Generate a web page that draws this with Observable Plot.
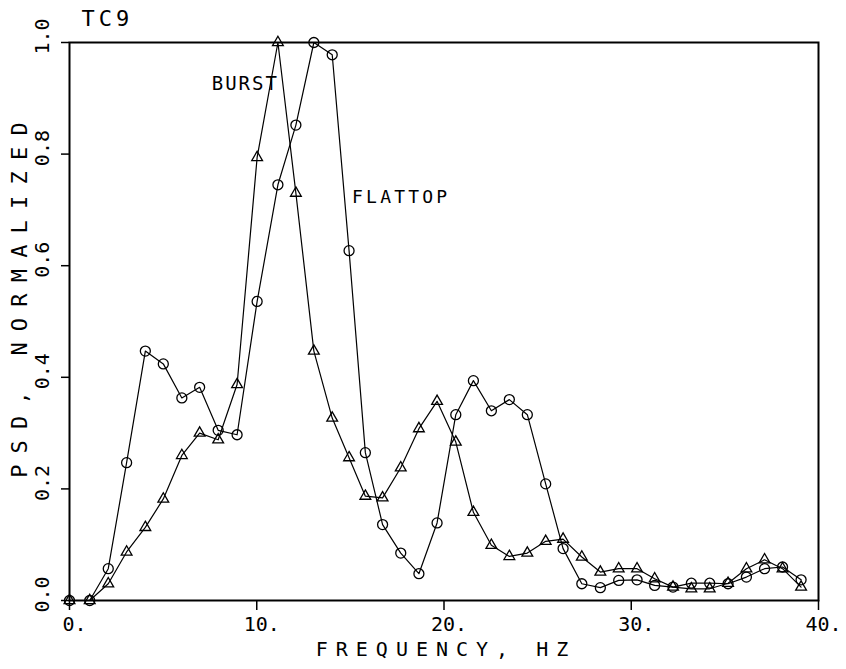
<!DOCTYPE html>
<html><head><meta charset="utf-8">
<script src="https://cdn.jsdelivr.net/npm/d3@7"></script>
<script src="https://cdn.jsdelivr.net/npm/@observablehq/plot@0.6"></script>
<style>body{margin:0;background:#fff}</style>
</head><body><div id="chart"></div>
<script>
// Frequency bins (Hz)
const freq = [0, 1.08, 2.07, 3.05, 4.05, 5.01, 6.0, 6.95, 7.94, 8.95, 10.02, 11.13, 12.09, 13.05, 14.03, 14.93, 15.8, 16.72, 17.69, 18.66, 19.63, 20.63, 21.57, 22.53, 23.49, 24.45, 25.43, 26.36, 27.36, 28.35, 29.33, 30.31, 31.25, 32.23, 33.21, 34.19, 35.17, 36.15, 37.12, 38.08, 39.07];
// FLATTOP series (circles)
const flattop = [0, 0, 0.057, 0.247, 0.447, 0.424, 0.363, 0.382, 0.305, 0.297, 0.536, 0.745, 0.852, 1.0, 0.978, 0.627, 0.265, 0.136, 0.085, 0.048, 0.139, 0.333, 0.394, 0.34, 0.36, 0.333, 0.209, 0.093, 0.03, 0.023, 0.036, 0.037, 0.027, 0.024, 0.031, 0.031, 0.03, 0.042, 0.057, 0.06, 0.037];
// BURST series (triangles)
const burst = [0, 0, 0.03, 0.087, 0.131, 0.182, 0.26, 0.30, 0.288, 0.387, 0.794, 1.0, 0.73, 0.447, 0.327, 0.256, 0.187, 0.184, 0.238, 0.308, 0.357, 0.284, 0.158, 0.099, 0.079, 0.085, 0.106, 0.11, 0.078, 0.051, 0.057, 0.057, 0.039, 0.024, 0.021, 0.021, 0.031, 0.057, 0.073, 0.057, 0.024];
const xTicks = [0, 10, 20, 30, 40];
const yTicks = [0, 0.2, 0.4, 0.6, 0.8, 1.0];
const title = "TC9";
const xLabel = "FREQUENCY, HZ";
const yLabel = "PSD, NORMALIZED";
const burstLabel = "BURST";
const flattopLabel = "FLATTOP";

const rowsF = freq.map((f, i) => ({f, v: flattop[i]}));
const rowsB = freq.map((f, i) => ({f, v: burst[i]}));
const burstPeak = rowsB[d3.maxIndex(burst)];
const flatAnchor = rowsF[15];

const svg = Plot.plot({
  width: 846,
  height: 669,
  marginLeft: 69,
  marginRight: 28,
  marginTop: 42,
  marginBottom: 69,
  style: {fontFamily: "DejaVu Sans Mono", fontSize: "20px", color: "#000", background: "#fff"},
  x: {domain: [0, 40]},
  y: {domain: [0, 1]},
  marks: [
    Plot.axisX({ticks: xTicks, tickSize: 10, tickFormat: () => "", label: null, strokeWidth: 1.5}),
    Plot.axisY({ticks: yTicks, tickSize: 8, tickFormat: () => "", label: null, strokeWidth: 1.5}),
    Plot.text(xTicks, {x: d => d, text: d => d + ".", frameAnchor: "bottom", dy: 24.5, dx: 5, fontSize: 20, lineAnchor: "middle"}),
    Plot.text(yTicks, {y: d => d, text: d => d.toFixed(1), frameAnchor: "left", rotate: -90, dx: -27, dy: -6, fontSize: 20, textAnchor: "middle", lineAnchor: "middle"}),
    Plot.text([xLabel], {frameAnchor: "bottom", dy: 49.5, dx: 2, fontSize: 20, lineAnchor: "middle"}),
    Plot.text([yLabel], {frameAnchor: "left", rotate: -90, dx: -50, dy: -27, fontSize: 22, textAnchor: "middle", lineAnchor: "middle"}),
    Plot.text([title], {frameAnchor: "top-left", textAnchor: "start", lineAnchor: "middle", dx: 12, dy: -23.5, fontSize: 22}),
    Plot.line(rowsF, {x: "f", y: "v", stroke: "#000", strokeWidth: 1.2}),
    Plot.line(rowsB, {x: "f", y: "v", stroke: "#000", strokeWidth: 1.2}),
    Plot.dot(rowsF, {x: "f", y: "v", r: 5, symbol: "circle", stroke: "#000", fill: "none", strokeWidth: 1.3}),
    Plot.dot(rowsB, {x: "f", y: "v", r: 4, symbol: "triangle", stroke: "#000", fill: "none", strokeWidth: 1.3}),
    Plot.text([burstPeak], {x: "f", y: "v", text: () => burstLabel, textAnchor: "end", lineAnchor: "middle", dx: 1, dy: 41, fontSize: 19}),
    Plot.text([flatAnchor], {x: "f", y: "v", text: () => flattopLabel, textAnchor: "start", lineAnchor: "middle", dx: 3, dy: -53, fontSize: 18}),
    Plot.frame({stroke: "#000", strokeWidth: 2})
  ]
});
document.getElementById("chart").appendChild(svg);

const spacing = {[xLabel]: 8, [yLabel]: 11.2, [title]: 4, [burstLabel]: 2, [flattopLabel]: 3.2};
d3.select(svg).selectAll("text").each(function () {
  const t = this.textContent;
  if (spacing[t] !== undefined) d3.select(this).attr("letter-spacing", spacing[t]);
});
</script>
</body></html>
